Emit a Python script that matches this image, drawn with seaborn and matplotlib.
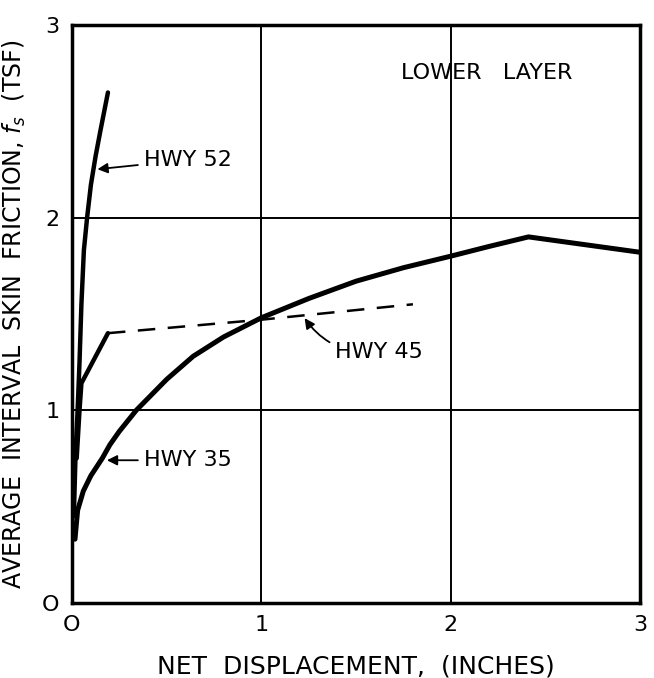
import matplotlib
matplotlib.use("Agg")
import matplotlib.pyplot as plt
import seaborn as sns

# curves (x = net displacement in, y = skin friction tsf)
hwy52_x = [0.01, 0.02, 0.03, 0.04, 0.05, 0.063, 0.08, 0.1, 0.125, 0.15, 0.19]
hwy52_y = [0.45, 0.8, 1.0, 1.25, 1.55, 1.83, 2.0, 2.17, 2.32, 2.45, 2.65]

hwy45_x = [0.025, 0.04, 0.05, 0.12, 0.19]
hwy45_y = [0.75, 1.0, 1.14, 1.27, 1.40]
hwy45_dash_x = [0.19, 1.0, 1.80]
hwy45_dash_y = [1.40, 1.47, 1.55]

hwy35_x = [0.016, 0.03, 0.06, 0.1, 0.16, 0.2, 0.25, 0.34, 0.5, 0.64, 0.8, 1.0,
           1.25, 1.5, 1.75, 2.0, 2.2, 2.41, 3.0]
hwy35_y = [0.33, 0.48, 0.58, 0.66, 0.75, 0.82, 0.89, 1.0, 1.16, 1.28, 1.38, 1.48,
           1.58, 1.67, 1.74, 1.80, 1.85, 1.90, 1.82]

x_ticks = [0, 1, 2, 3]
y_ticks = [0, 1, 2, 3]
tick_labels = ["O", "1", "2", "3"]

sns.set_style("white")
plt.rcParams['font.family'] = ['DejaVu Sans']
plt.rcParams['text.color'] = 'black'

fig = plt.figure(figsize=(6.54, 6.78), dpi=100)
ax = fig.add_axes([0.110, 0.111, 0.869, 0.852])

sns.lineplot(x=hwy52_x, y=hwy52_y, sort=False, estimator=None, color="black", lw=3.2, ax=ax)
sns.lineplot(x=hwy45_x, y=hwy45_y, sort=False, estimator=None, color="black", lw=3.2, ax=ax)
sns.lineplot(x=hwy45_dash_x, y=hwy45_dash_y, sort=False, estimator=None, color="black",
             lw=1.8, dashes=False, linestyle=(0, (7, 5)), ax=ax)
sns.lineplot(x=hwy35_x, y=hwy35_y, sort=False, estimator=None, color="black", lw=3.6, ax=ax)

ax.set_xlim(0, 3)
ax.set_ylim(0, 3)
ax.set_xticks(x_ticks)
ax.set_yticks(y_ticks)
ax.set_xticklabels(tick_labels, fontsize=16, color="black")
ax.set_yticklabels(tick_labels, fontsize=16, color="black")
ax.tick_params(length=0, pad=9)
ax.grid(True, color="black", lw=1.4)
for s in ax.spines.values():
    s.set_color("black")
    s.set_linewidth(2.5)

ax.set_xlabel("NET  DISPLACEMENT,  (INCHES)", fontsize=18, labelpad=14, color="black")
ax.set_ylabel("AVERAGE  INTERVAL  SKIN  FRICTION, $f_s$  (TSF)", fontsize=17,
              labelpad=10, color="black")

arrow = dict(arrowstyle="-|>", color="black", lw=1.3, mutation_scale=15)
ax.annotate("HWY 52", xy=(0.12, 2.25), xytext=(0.38, 2.30), fontsize=16,
            va="center", arrowprops=arrow)
ax.annotate("HWY 35", xy=(0.17, 0.74), xytext=(0.38, 0.74), fontsize=16,
            va="center", arrowprops=arrow)
ax.annotate("HWY 45", xy=(1.22, 1.49), xytext=(1.39, 1.30), fontsize=16,
            va="center", arrowprops=dict(arrow, connectionstyle="arc3,rad=-0.3"))
ax.text(2.19, 2.75, "LOWER   LAYER", fontsize=16, ha="center", va="center")

fig.savefig("out.png", dpi=100)
